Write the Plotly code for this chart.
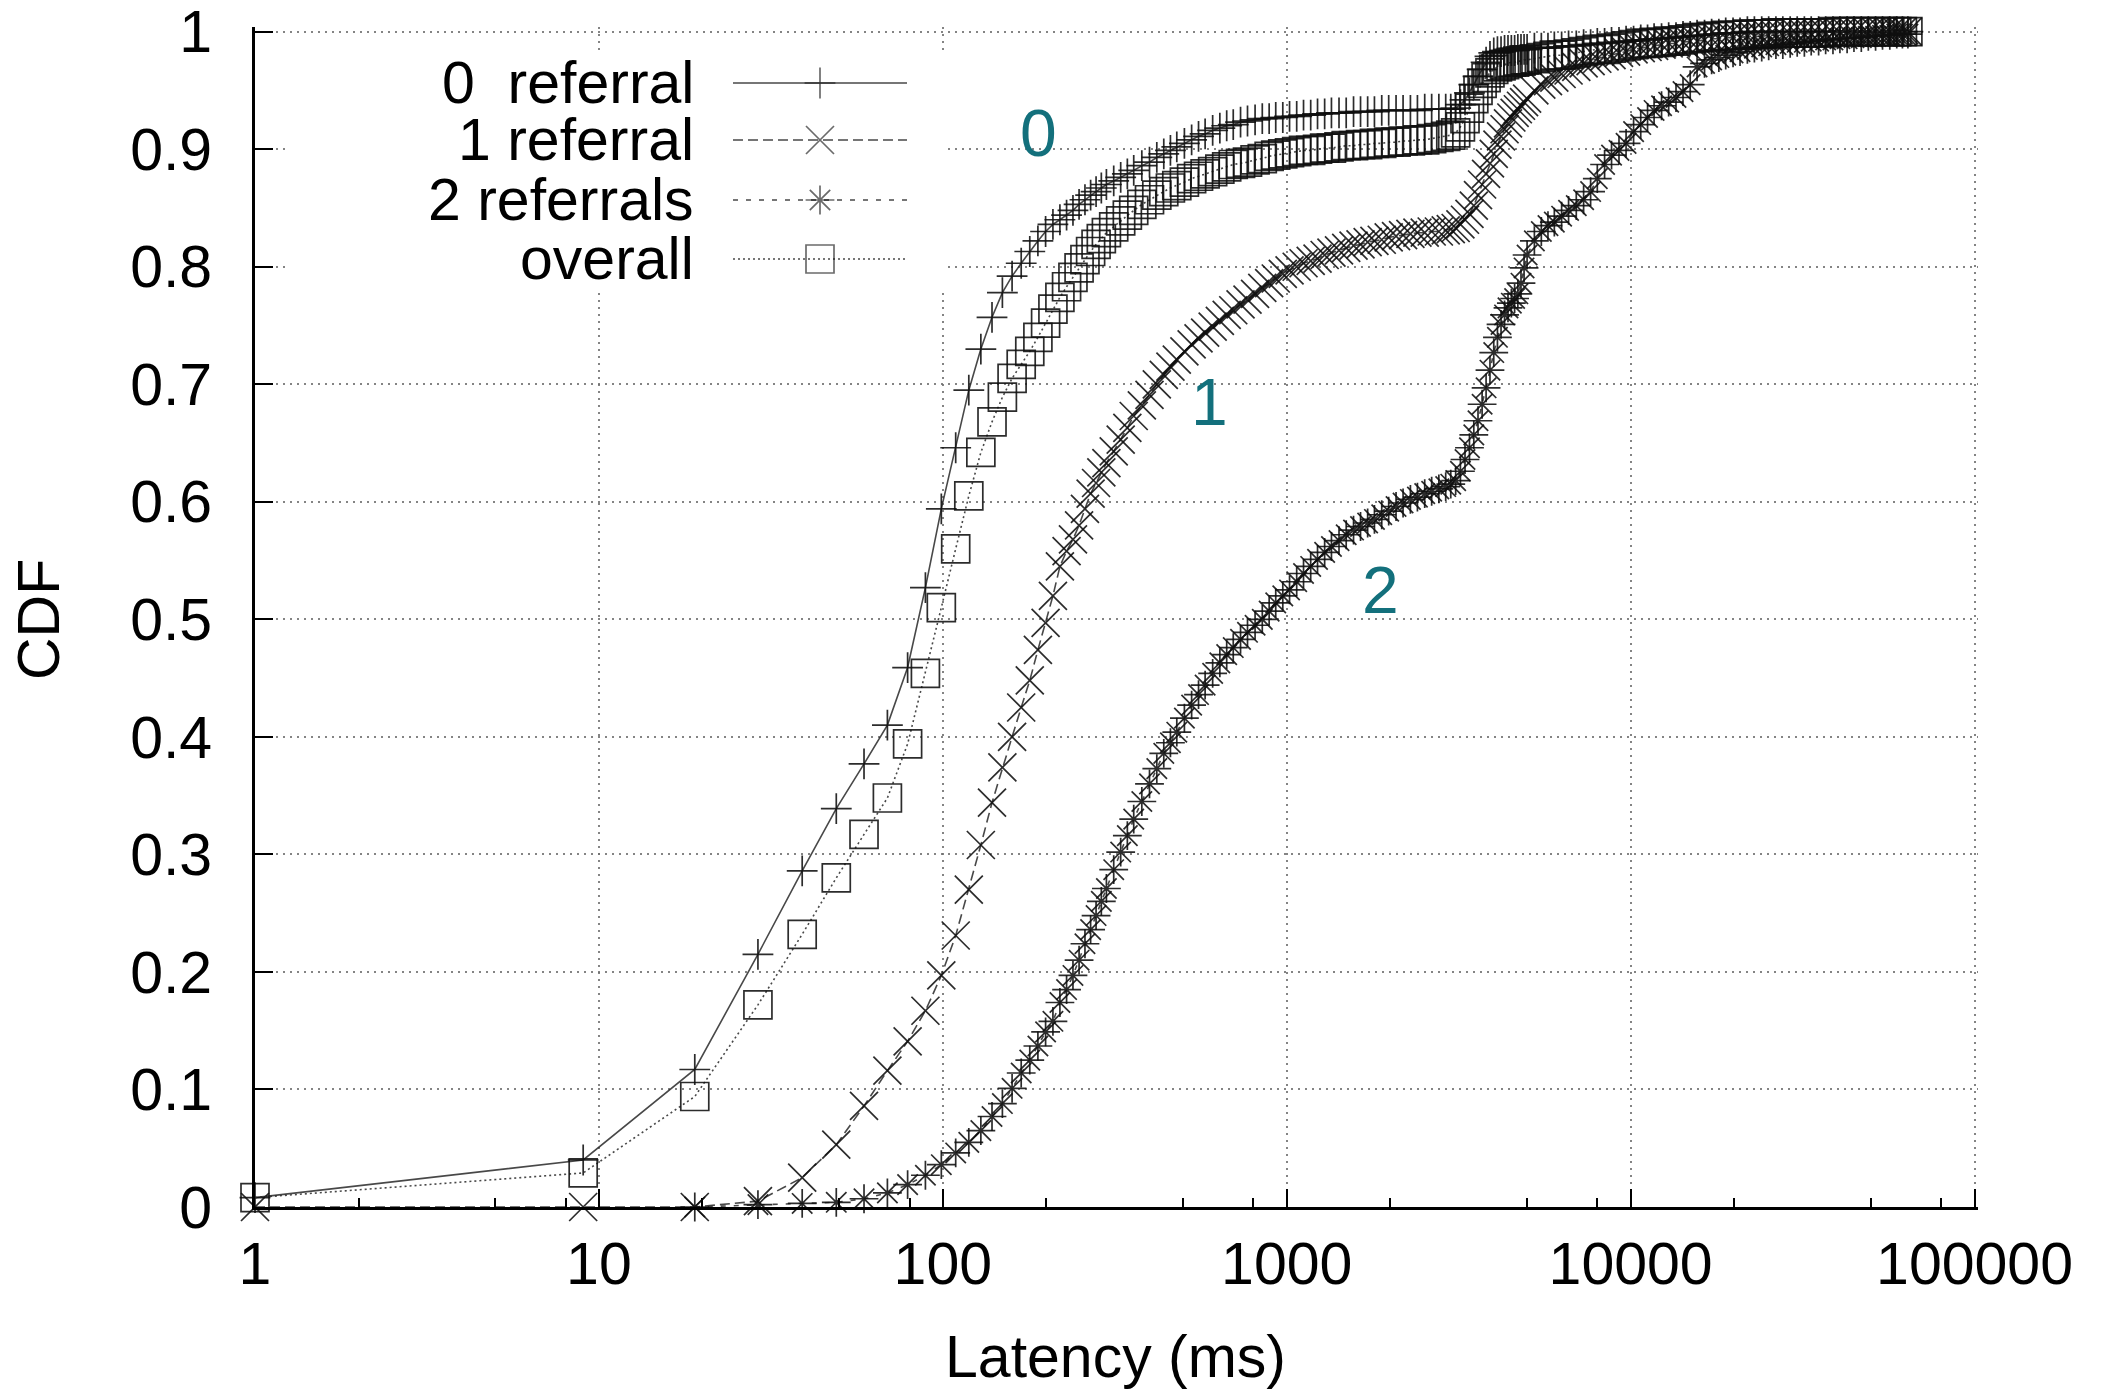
import plotly.graph_objects as go

# Latency bins (ms) shared by all curves
LATENCY_MS = [
    1, 9, 19, 29, 39, 49, 59, 69, 79, 89, 99,
    109, 119, 129, 139, 149, 159, 169, 179, 189, 199,
    209, 219, 229, 239, 249, 259, 269, 279, 289, 299,
    314, 329, 344, 359, 379, 399, 419, 439, 459, 479,
    504, 529, 554, 579, 609, 639, 669, 699, 734, 769,
    809, 849, 889, 929, 974, 1019,
    1069, 1119, 1174, 1229, 1289, 1349, 1419, 1489, 1564, 1639,
    1719, 1799, 1889, 1979, 2079, 2179, 2289, 2399, 2519, 2639,
    2769, 2899, 2999,
    3099, 3199, 3299, 3399, 3499, 3599, 3699, 3799, 3899, 3999,
    4099, 4199, 4299, 4399, 4499, 4599, 4699, 4799, 4899, 4999,
    5249, 5499, 5749, 5999, 6299, 6599, 6949, 7299, 7649, 7999,
    8399, 8799, 9249, 9699,
    10199, 10699, 11199, 11699, 12299, 12899, 13549, 14199, 14899, 15599,
    16399, 17199, 18049, 18899, 19849, 20799, 21849, 22899, 24049, 25199,
    26449, 27699, 29099, 30499, 31999, 33499, 35199, 36899, 38749, 40599,
    42599, 44599, 46849, 49099, 51549, 53999, 56699, 59399, 61699, 63999,
]

# CDF of lookups resolved with no referral
CDF_0 = [
    0.008, 0.040, 0.117, 0.215, 0.286, 0.339, 0.377, 0.410, 0.459, 0.527, 0.594,
    0.646, 0.695, 0.730, 0.757, 0.778, 0.792, 0.803, 0.813, 0.822, 0.830,
    0.836, 0.840, 0.844, 0.848, 0.853, 0.857, 0.861, 0.864, 0.867, 0.870,
    0.873, 0.876, 0.879, 0.882, 0.886, 0.889, 0.893, 0.896, 0.899, 0.902,
    0.905, 0.908, 0.911, 0.913, 0.916, 0.918, 0.920, 0.921, 0.923, 0.924,
    0.925, 0.926, 0.926, 0.927, 0.927, 0.928,
    0.928, 0.929, 0.929, 0.930, 0.930, 0.931, 0.931, 0.931, 0.932, 0.932,
    0.932, 0.932, 0.933, 0.933, 0.933, 0.933, 0.933, 0.933, 0.934, 0.934,
    0.934, 0.934, 0.934,
    0.935, 0.938, 0.942, 0.948, 0.955, 0.962, 0.968, 0.974, 0.979, 0.982,
    0.983, 0.983, 0.984, 0.984, 0.984, 0.984, 0.985, 0.985, 0.985, 0.985,
    0.986, 0.986, 0.986, 0.987, 0.987, 0.988, 0.988, 0.989, 0.989, 0.990,
    0.990, 0.991, 0.991, 0.992,
    0.992, 0.993, 0.993, 0.994, 0.994, 0.995, 0.995, 0.996, 0.996, 0.997,
    0.997, 0.998, 0.998, 0.999, 0.999, 0.999, 1.0, 1.0, 1.0, 1.0,
    1.0, 1.0, 1.0, 1.0, 1.0, 1.0, 1.0, 1.0, 1.0, 1.0,
    1.0, 1.0, 1.0, 1.0, 1.0, 1.0, 1.0, 1.0, 1.0, 1.0,
]

# CDF of lookups needing one referral
CDF_1 = [
    0.0, 0.0, 0.0, 0.005, 0.025, 0.053, 0.086, 0.116, 0.141, 0.167, 0.197,
    0.231, 0.270, 0.308, 0.344, 0.374, 0.400, 0.425, 0.448, 0.474, 0.497,
    0.520, 0.545, 0.558, 0.568, 0.580, 0.594, 0.607, 0.616, 0.625, 0.633,
    0.643, 0.653, 0.663, 0.673, 0.682, 0.691, 0.700, 0.708, 0.715, 0.721,
    0.728, 0.734, 0.739, 0.744, 0.749, 0.754, 0.759, 0.763, 0.768, 0.772,
    0.777, 0.782, 0.786, 0.790, 0.794, 0.797,
    0.800, 0.803, 0.805, 0.807, 0.810, 0.812, 0.814, 0.816, 0.818, 0.819,
    0.821, 0.822, 0.823, 0.825, 0.826, 0.827, 0.828, 0.829, 0.829, 0.830,
    0.830, 0.831, 0.832,
    0.833, 0.836, 0.840, 0.845, 0.852, 0.861, 0.870, 0.879, 0.888, 0.896,
    0.904, 0.911, 0.917, 0.922, 0.927, 0.931, 0.934, 0.937, 0.940, 0.943,
    0.950, 0.955, 0.958, 0.961, 0.964, 0.967, 0.970, 0.973, 0.975, 0.977,
    0.979, 0.980, 0.982, 0.983,
    0.985, 0.986, 0.987, 0.988, 0.989, 0.990, 0.990, 0.991, 0.992, 0.992,
    0.993, 0.994, 0.994, 0.995, 0.995, 0.995, 0.996, 0.996, 0.996, 0.997,
    0.997, 0.997, 0.998, 0.998, 0.998, 0.998, 0.998, 0.998, 0.999, 0.999,
    0.999, 0.999, 0.999, 0.999, 1.0, 1.0, 1.0, 1.0, 1.0, 1.0,
]

# CDF of lookups needing two referrals
CDF_2 = [
    None, None, 0.0, 0.002, 0.003, 0.004, 0.007, 0.012, 0.019, 0.027, 0.036,
    0.046, 0.055, 0.065, 0.077, 0.088, 0.101, 0.114, 0.125, 0.137, 0.149,
    0.158, 0.174, 0.185, 0.197, 0.210, 0.224, 0.236, 0.248, 0.260, 0.271,
    0.287, 0.302, 0.316, 0.330, 0.345, 0.360, 0.373, 0.386, 0.395, 0.404,
    0.416, 0.427, 0.436, 0.444, 0.454, 0.463, 0.470, 0.476, 0.483, 0.489,
    0.495, 0.500, 0.507, 0.514, 0.520, 0.525,
    0.532, 0.539, 0.545, 0.551, 0.557, 0.562, 0.567, 0.572, 0.576, 0.579,
    0.582, 0.585, 0.589, 0.592, 0.596, 0.599, 0.602, 0.604, 0.607, 0.609,
    0.611, 0.613, 0.615,
    0.618, 0.626, 0.636, 0.646, 0.657, 0.669, 0.683, 0.697, 0.712, 0.727,
    0.740, 0.751, 0.759, 0.765, 0.769, 0.773, 0.777, 0.786, 0.799, 0.810,
    0.822, 0.830, 0.835, 0.838, 0.843, 0.848, 0.852, 0.857, 0.864, 0.875,
    0.887, 0.895, 0.899, 0.905,
    0.915, 0.921, 0.927, 0.933, 0.937, 0.940, 0.944, 0.949, 0.955, 0.970,
    0.973, 0.976, 0.978, 0.980, 0.982, 0.983, 0.985, 0.986, 0.987, 0.988,
    0.989, 0.989, 0.990, 0.991, 0.991, 0.992, 0.992, 0.993, 0.993, 0.994,
    0.994, 0.995, 0.995, 0.996, 0.996, 0.997, 0.997, 0.998, 0.998, 0.998,
]

# CDF over all lookups
CDF_ALL = [
    0.008, 0.029, 0.094, 0.172, 0.232, 0.280, 0.317, 0.348, 0.394, 0.454, 0.510,
    0.560, 0.605, 0.642, 0.668, 0.689, 0.705, 0.717, 0.728, 0.740, 0.752,
    0.764, 0.774, 0.783, 0.791, 0.799, 0.806, 0.813, 0.819, 0.824, 0.829,
    0.834, 0.839, 0.844, 0.848, 0.853, 0.857, 0.861, 0.864, 0.867, 0.869,
    0.872, 0.875, 0.877, 0.879, 0.881, 0.883, 0.885, 0.887, 0.888, 0.889,
    0.891, 0.892, 0.894, 0.895, 0.896, 0.897,
    0.898, 0.899, 0.899, 0.900, 0.901, 0.901, 0.902, 0.903, 0.903, 0.904,
    0.904, 0.905, 0.905, 0.906, 0.906, 0.907, 0.907, 0.908, 0.908, 0.909,
    0.910, 0.911, 0.912,
    0.914, 0.919, 0.926, 0.935, 0.943, 0.950, 0.956, 0.961, 0.965, 0.968,
    0.970, 0.971, 0.972, 0.973, 0.974, 0.974, 0.975, 0.975, 0.976, 0.976,
    0.977, 0.978, 0.979, 0.980, 0.980, 0.981, 0.982, 0.983, 0.984, 0.985,
    0.985, 0.986, 0.987, 0.988,
    0.989, 0.990, 0.990, 0.991, 0.991, 0.992, 0.992, 0.993, 0.994, 0.995,
    0.995, 0.996, 0.996, 0.997, 0.997, 0.997, 0.998, 0.998, 0.998, 0.998,
    0.999, 0.999, 0.999, 0.999, 0.999, 0.999, 0.999, 0.999, 1.0, 1.0,
    1.0, 1.0, 1.0, 1.0, 1.0, 1.0, 1.0, 1.0, 1.0, 1.0,
]

SERIES_NAMES = ["0  referral", "1 referral", "2 referrals", "overall"]
SERIES_VALUES = [CDF_0, CDF_1, CDF_2, CDF_ALL]
for _vals in SERIES_VALUES:
    if len(_vals) != len(LATENCY_MS):
        raise ValueError(f"series length {len(_vals)} != {len(LATENCY_MS)}")

X_TICKS = [1, 10, 100, 1000, 10000, 100000]
X_TICK_TEXT = ["1", "10", "100", "1000", "10000", "100000"]
X_MINOR_TICKS = [2, 5, 8, 20, 50, 80, 200, 500, 800, 2000, 5000, 8000,
                 20000, 50000, 80000]
Y_TICKS = [0, 0.1, 0.2, 0.3, 0.4, 0.5, 0.6, 0.7, 0.8, 0.9, 1]
Y_TICK_TEXT = ["0", "0.1", "0.2", "0.3", "0.4", "0.5", "0.6", "0.7", "0.8",
               "0.9", "1"]

CURVE_TAGS = ["0", "1", "2"]

# ---- styling -------------------------------------------------------------
FONT = "Liberation Sans, Arial, Helvetica, sans-serif"
INK = "rgba(15,15,15,0.88)"
LINE_INK = "rgba(40,40,40,0.85)"
TEAL = "#13707c"

STYLES = [
    dict(symbol="cross-thin-open", size=22, dash="solid"),
    dict(symbol="x-thin-open", size=28, dash="10px,5px"),
    dict(symbol="asterisk-open", size=24, dash="5px,8px"),
    dict(symbol="square-open", size=28, dash="2px,3px"),
]

# The axis ranges run a hair past 1 and 1e5 so the end grid lines and
# inward ticks at those values are kept.
X_RANGE = [0, 5.01]
Y_RANGE = [0, 1.004]

W, H = 2101, 1397
ML, MR, MT, MB = 255, 123, 27, 190
PW, PH = W - ML - MR, H - MT - MB


def px_x(px):
    """Horizontal pixel -> paper fraction of the plot area."""
    return (px - ML) / PW


def px_y(py):
    """Vertical pixel (from top) -> paper fraction of the plot area."""
    return (H - MB - py) / PH


fig = go.Figure()

for name, vals, st in zip(SERIES_NAMES, SERIES_VALUES, STYLES):
    fig.add_trace(go.Scatter(
        x=LATENCY_MS, y=vals, name=name, mode="lines+markers",
        line=dict(color=LINE_INK, width=1.6, dash=st["dash"]),
        marker=dict(symbol=st["symbol"], size=st["size"],
                    line=dict(color=INK, width=1.7), color=INK),
        cliponaxis=False, showlegend=False, connectgaps=False,
    ))

# ---- gnuplot-style key: opaque box, right-aligned text, samples on right --
box_x0, box_x1 = px_x(290), px_x(946)
box_y0, box_y1 = px_y(288), px_y(50)
fig.add_trace(go.Scatter(
    x=[box_x0, box_x1, box_x1, box_x0, box_x0],
    y=[box_y0, box_y0, box_y1, box_y1, box_y0],
    mode="lines", fill="toself", fillcolor="white",
    line=dict(width=0, color="white"),
    xaxis="x2", yaxis="y2", hoverinfo="skip", showlegend=False,
))

key_rows_px = [83, 140, 200, 259]
sample_x = [px_x(733), px_x(820), px_x(907)]
for name, st, row in zip(SERIES_NAMES, STYLES, key_rows_px):
    ry = px_y(row)
    fig.add_trace(go.Scatter(
        x=sample_x, y=[ry, ry, ry], mode="lines+markers",
        line=dict(color=LINE_INK, width=1.6, dash=st["dash"]),
        marker=dict(symbol=st["symbol"], size=[0, st["size"], 0],
                    line=dict(color=INK, width=1.7), color=INK),
        xaxis="x2", yaxis="y2", hoverinfo="skip", showlegend=False,
        cliponaxis=False,
    ))
    fig.add_annotation(
        text=name, xref="paper", yref="paper", x=px_x(696), y=ry,
        xanchor="right", yanchor="middle", showarrow=False, height=54,
        valign="middle",
        font=dict(family=FONT, size=59, color="black"),
    )

# ---- curve tags ---------------------------------------------------------
for tag, (cx, cy) in zip(CURVE_TAGS, [(1038, 133), (1209, 402), (1380, 590)]):
    fig.add_annotation(
        text=tag, xref="paper", yref="paper", x=px_x(cx), y=px_y(cy),
        xanchor="center", yanchor="middle", showarrow=False,
        font=dict(family=FONT, size=66, color=TEAL),
    )

# ---- axis titles --------------------------------------------------------
fig.add_annotation(
    text="CDF", xref="paper", yref="paper", x=px_x(39), y=px_y(620),
    xanchor="center", yanchor="middle", textangle=-90, showarrow=False,
    font=dict(family=FONT, size=59, color="black"),
)
fig.add_annotation(
    text="Latency (ms)", xref="paper", yref="paper", x=px_x(1115),
    y=px_y(1357), xanchor="center", yanchor="middle", showarrow=False,
    font=dict(family=FONT, size=59, color="black"),
)

grid = dict(showgrid=True, gridcolor="rgba(110,110,110,0.85)", gridwidth=1.6,
            griddash="2px,5px")

fig.update_layout(
    width=W, height=H, autosize=False,
    margin=dict(l=ML, r=MR, t=MT, b=MB, pad=0, autoexpand=False),
    paper_bgcolor="white", plot_bgcolor="white",
    font=dict(family=FONT, size=59, color="black"),
    xaxis=dict(
        type="log", range=X_RANGE, tickmode="array", tickvals=X_TICKS,
        ticktext=X_TICK_TEXT, ticks="inside", ticklen=18, tickwidth=2,
        tickcolor="black", showline=True, linewidth=3, linecolor="black",
        zeroline=False, mirror=False, ticklabelstandoff=3,
        ticklabeloverflow="allow", automargin=False,
        tickfont=dict(family=FONT, size=59, color="black"),
        minor=dict(tickmode="array", tickvals=X_MINOR_TICKS, ticks="inside",
                   ticklen=9, tickwidth=2, tickcolor="black", showgrid=False),
        **grid,
    ),
    yaxis=dict(
        range=Y_RANGE, tickmode="array", tickvals=Y_TICKS,
        ticktext=Y_TICK_TEXT, ticks="inside", ticklen=18, tickwidth=2,
        tickcolor="black", showline=True, linewidth=3, linecolor="black",
        zeroline=False, mirror=False, ticklabelstandoff=28,
        ticklabeloverflow="allow", automargin=False,
        tickfont=dict(family=FONT, size=59, color="black"),
        **grid,
    ),
    xaxis2=dict(overlaying="x", range=[0, 1], visible=False, fixedrange=True),
    yaxis2=dict(overlaying="y", range=[0, 1], visible=False, fixedrange=True),
    showlegend=False,
)

fig.write_html("out.html")
